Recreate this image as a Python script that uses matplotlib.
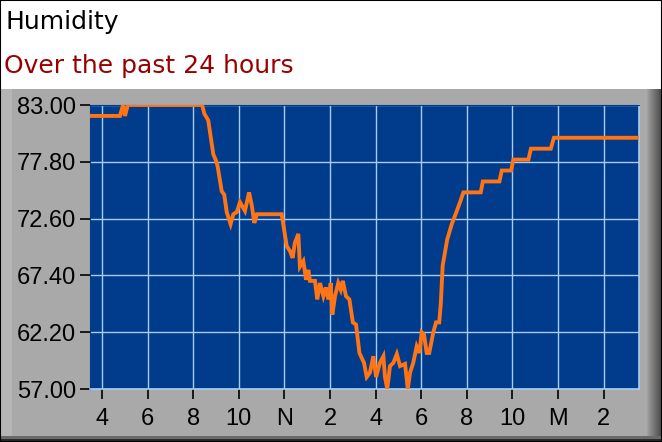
import numpy as np
import matplotlib.pyplot as plt
from matplotlib.patches import Rectangle

# hours since the midnight before the window (4 = 4 AM, 24 = midnight)
hours = [3.52, 4.79, 4.92, 5.01, 5.13, 8.39, 8.49, 8.66, 8.88, 9.00,
         9.07, 9.25, 9.36, 9.47, 9.64, 9.76, 9.91, 10.05, 10.27, 10.45,
         10.57, 10.68, 10.79, 11.88, 12.10, 12.25, 12.36, 12.46, 12.61, 12.68,
         12.83, 12.95, 13.05, 13.12, 13.34, 13.44, 13.56, 13.71, 13.82, 13.93,
         14.03, 14.10, 14.22, 14.36, 14.47, 14.56, 14.70, 14.85, 15.00, 15.14,
         15.29, 15.49, 15.61, 15.75, 15.90, 16.02, 16.19, 16.34, 16.41, 16.51,
         16.63, 16.78, 16.93, 17.07, 17.29, 17.41, 17.51, 17.65, 17.80, 17.92,
         18.02, 18.12, 18.24, 18.35, 18.53, 18.65, 18.79, 18.86, 18.94, 19.04,
         19.14, 19.34, 19.56, 19.70, 19.85, 20.61, 20.70, 21.43, 21.53, 21.94,
         22.04, 22.70, 22.81, 23.68, 23.82, 27.55]
humidity = [82, 82, 83, 82, 83, 83, 82.2, 81.6, 78.5, 77.9,
            77.4, 75.1, 74.8, 73.2, 72.1, 73.0, 73.2, 74.1, 73.3, 75.0,
            73.8, 72.2, 73, 73, 70.1, 69.6, 69.0, 70.4, 71.2, 68.2,
            68.7, 67.0, 67.9, 66.9, 66.9, 65.2, 66.7, 65.5, 66.3, 65.2,
            66.7, 63.8, 65.5, 66.7, 66.1, 66.9, 65.5, 65.2, 63.1, 62.9,
            60.3, 59.4, 58.1, 58.5, 60.0, 58.1, 59.4, 60.0, 58.1, 57.0,
            59.1, 59.4, 60.2, 59.1, 59.3, 57.0, 58.5, 59.4, 60.9, 60.3,
            62.2, 62.0, 60.3, 60.3, 62.2, 63.1, 63.1, 64.9, 68.3, 69.5,
            70.7, 72.1, 73.3, 74.1, 75.0, 75, 76, 76, 77, 77,
            78, 78, 79, 79, 80, 80]

x_ticks = [4, 6, 8, 10, 12, 14, 16, 18, 20, 22, 24, 26]
x_labels = ['4', '6', '8', '10', 'N', '2', '4', '6', '8', '10', 'M', '2']
y_ticks = [57.0, 62.2, 67.4, 72.6, 77.8, 83.0]

W, H = 662, 442
fig = plt.figure(figsize=(W / 100, H / 100), dpi=100)
fig.patch.set_facecolor('white')

def px_rect(x0, y0, x1, y1, color, z=-5):
    # rectangle given in pixels from the top-left corner
    fig.patches.append(Rectangle((x0 / W, 1 - y1 / H), (x1 - x0) / W, (y1 - y0) / H,
                                 transform=fig.transFigure, facecolor=color,
                                 edgecolor='none', zorder=z))

# grey panel with light left edge, shaded right edge and dark bottom
px_rect(0, 89, W, H, '#a9a9a9')
px_rect(0, 89, 12, H, '#b5b5b5')
for i, c in enumerate(['#a0a0a0', '#989898', '#909090', '#8a8a8a', '#848484', '#7e7e7e',
                       '#787878', '#727272', '#6c6c6c', '#666666', '#606060', '#5a5a5a',
                       '#545454', '#4e4e4e']):
    px_rect(647 + i, 89, 648 + i, H, c)
px_rect(0, 436, W, H, '#6a6a6a')
px_rect(0, 439, W, H, '#2a2a2a')
# thin black outline
fig.patches.append(Rectangle((0, 0), 1, 1, transform=fig.transFigure, fill=False,
                             edgecolor='black', linewidth=1.5, zorder=5))

fig.text(6 / W, 1 - 29 / H, 'Humidity', fontsize=18, family='DejaVu Sans',
         color='black', va='baseline', ha='left')
fig.text(4 / W, 1 - 73 / H, 'Over the past 24 hours', fontsize=18, family='DejaVu Sans',
         color='#990000', va='baseline', ha='left')

ax = fig.add_axes([90 / W, 1 - 389 / H, 549 / W, 284 / H])
ax.set_facecolor('#003b8c')
ax.plot(hours, humidity, color='#ff7414', linewidth=2.8, solid_joinstyle='miter', zorder=3)

ax.set_xlim(3.474, 27.55)
ax.set_ylim(57, 83)
ax.set_xticks(x_ticks)
ax.set_xticklabels(x_labels, family='Liberation Sans')
ax.set_yticks(y_ticks)
ax.set_yticklabels(['%.2f' % v for v in y_ticks], family='Liberation Sans')
ax.grid(True, color='#a8ccf2', linewidth=1.0)
ax.set_axisbelow(True)

for s in ['left', 'top']:
    ax.spines[s].set_color('#003b8c')
for s in ['right', 'bottom']:
    ax.spines[s].set_color('#a8ccf2')
    ax.spines[s].set_linewidth(1.2)

ax.tick_params(axis='x', length=7, width=1.2, color='black', pad=7, labelsize=17)
ax.tick_params(axis='y', length=7, width=1.2, color='black', pad=3, labelsize=17)

fig.savefig('out.png', dpi=100)
